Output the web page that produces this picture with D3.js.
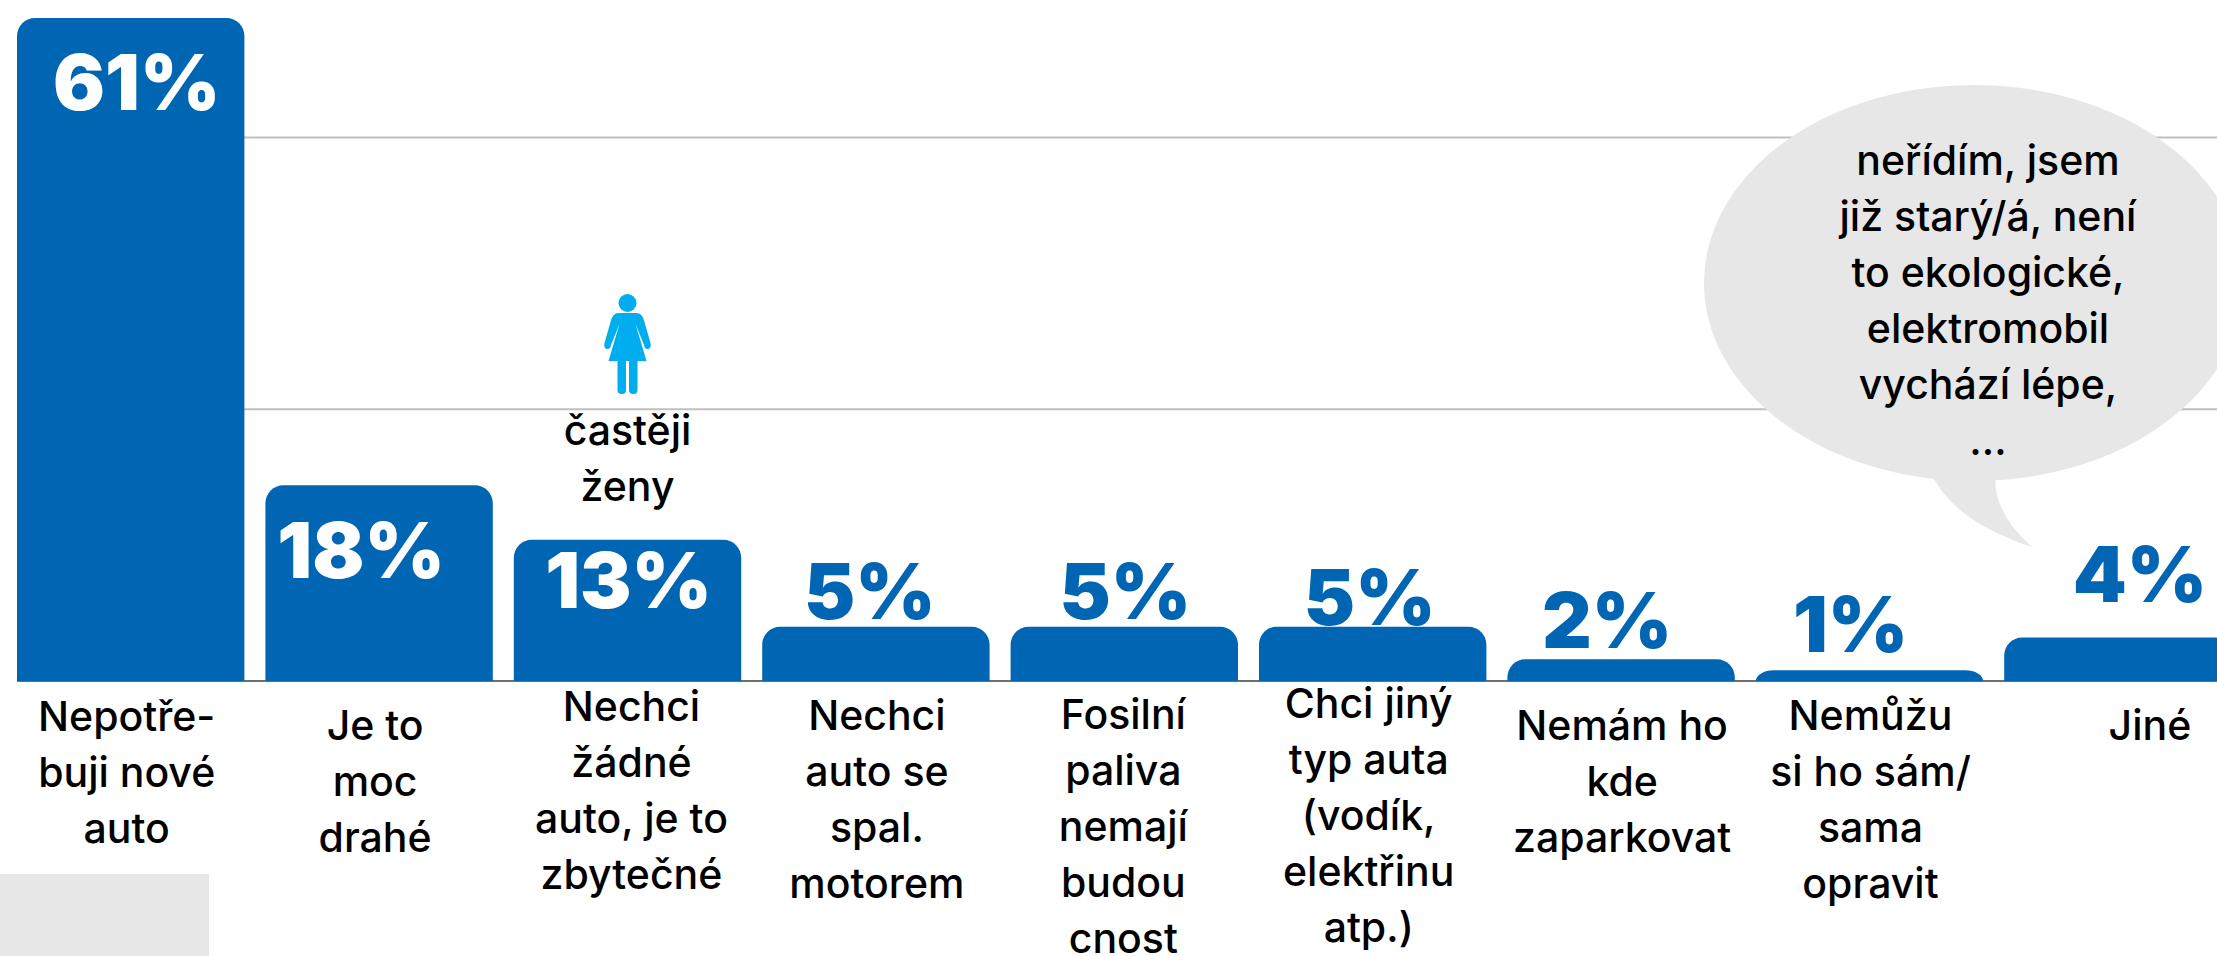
<!DOCTYPE html>
<html lang="cs">
<head>
<meta charset="utf-8">
<title>Důvody proti koupi auta</title>
<script src="https://cdn.jsdelivr.net/npm/d3@7"></script>
<style>
  html, body { margin: 0; padding: 0; background: #fff; overflow: hidden; }
  svg { display: block; }
  text { font-family: Inter, "Noto Sans", sans-serif; }
  .label { font-size: 41px; font-weight: 500; fill: #000; text-anchor: middle; }
  .value { font-size: 77px; font-weight: 900; text-anchor: middle; }
</style>
</head>
<body>
<div id="chart"></div>
<script>
// data
const categories = ["a", "b", "c", "d", "e", "f", "g", "h", "i"];
const values = [61, 18, 13, 5, 5, 5, 2, 1, 4];
const valueLabels = ["61%", "18%", "13%", "5%", "5%", "5%", "2%", "1%", "4%"];
const categoryLines = [
  ["Nepotře-", "buji nové", "auto"],
  ["Je to", "moc", "drahé"],
  ["Nechci", "žádné", "auto, je to", "zbytečné"],
  ["Nechci", "auto se", "spal.", "motorem"],
  ["Fosilní", "paliva", "nemají", "budou", "cnost"],
  ["Chci jiný", "typ auta", "(vodík,", "elektřinu", "atp.)"],
  ["Nemám ho", "kde", "zaparkovat"],
  ["Nemůžu", "si ho sám/", "sama", "opravit"],
  ["Jiné"]
];
const gridTicks = [25, 50];
const noteLines = ["častěji", "ženy"];
const bubbleLines = ["neřídím, jsem", "již starý/á, není", "to ekologické,", "elektromobil", "vychází lépe,", "..."];

// hand placed labels, the original has them dragged around a bit
const valueDx = [6, -18, 1, -6, 1, -3, -14, -19, 22];
const valueBaseline = [110, 578, 608, 619, 619, 625, 648, 652, 602];
const labelDx = [-4, -4, 4, 1, -1, -4, 1, 1, 32];
const labelBaseline = [731, 740, 721, 730, 729, 718, 740, 730, 740];

const width = 2217, height = 956;
const lineStep = 56;

const svg = d3.select("#chart").append("svg")
  .attr("width", width)
  .attr("height", height)
  .attr("viewBox", `0 0 ${width} ${height}`);

const x = d3.scaleBand()
  .domain(categories)
  .range([17, 17 + 9 * 248.4 - 21])
  .paddingInner(21 / 248.4)
  .paddingOuter(0);

const y = d3.scaleLinear().domain([0, 61]).range([681, 18]);

// grid lines
svg.selectAll(".grid")
  .data(gridTicks)
  .enter()
  .append("line")
  .attr("x1", x.range()[0])
  .attr("x2", width)
  .attr("y1", (d) => y(d))
  .attr("y2", (d) => y(d))
  .attr("stroke", "#bfbfbf")
  .attr("stroke-width", 2);

// base line
svg.append("line")
  .attr("x1", x.range()[0])
  .attr("x2", width)
  .attr("y1", y(0))
  .attr("y2", y(0))
  .attr("stroke", "#6f6f6f")
  .attr("stroke-width", 2);

// bars, only top corners are round
function barPath(d, i) {
  const x0 = x(categories[i]);
  const x1 = x0 + x.bandwidth();
  const yTop = y(d);
  const yBase = y(0);
  const ry = Math.min(18, yBase - yTop);
  const rx = 18;
  const p = d3.path();
  p.moveTo(x0, yBase);
  p.lineTo(x0, yTop + ry);
  p.bezierCurveTo(x0, yTop + ry * 0.45, x0 + rx * 0.45, yTop, x0 + rx, yTop);
  p.lineTo(x1 - rx, yTop);
  p.bezierCurveTo(x1 - rx * 0.45, yTop, x1, yTop + ry * 0.45, x1, yTop + ry);
  p.lineTo(x1, yBase);
  p.closePath();
  return p.toString();
}

svg.selectAll(".bar")
  .data(values)
  .enter()
  .append("path")
  .attr("class", "bar")
  .attr("d", barPath)
  .attr("fill", "#0066b3");

// value labels, white when sitting inside a bar
svg.selectAll(".value")
  .data(valueLabels)
  .enter()
  .append("text")
  .attr("class", "value")
  .attr("x", (d, i) => x(categories[i]) + x.bandwidth() / 2 + valueDx[i])
  .attr("y", (d, i) => valueBaseline[i])
  .attr("fill", (d, i) => (values[i] > 10 ? "#fff" : "#0066b3"))
  .text((d) => d);

// category labels
const catGroups = svg.selectAll(".cat")
  .data(categoryLines)
  .enter()
  .append("text")
  .attr("class", "label");

catGroups.selectAll("tspan")
  .data((d, i) => d.map((line, j) => ({ line, j, i })))
  .enter()
  .append("tspan")
  .attr("x", (d) => x(categories[d.i]) + x.bandwidth() / 2 + labelDx[d.i])
  .attr("y", (d) => labelBaseline[d.i] + d.j * lineStep)
  .text((d) => d.line);

// grey box bottom left
svg.append("rect")
  .attr("x", 0)
  .attr("y", 874)
  .attr("width", 209)
  .attr("height", 82)
  .attr("fill", "#e7e7e7");

// speech bubble
svg.append("ellipse")
  .attr("cx", 1974)
  .attr("cy", 283)
  .attr("rx", 270)
  .attr("ry", 198)
  .attr("fill", "#e7e7e7");

const tail = d3.path();
tail.moveTo(1930, 470);
tail.quadraticCurveTo(1950, 520, 2032, 547);
tail.quadraticCurveTo(1990, 510, 1996, 470);
tail.closePath();
svg.append("path").attr("d", tail.toString()).attr("fill", "#e7e7e7");

svg.append("text")
  .attr("class", "label")
  .selectAll("tspan")
  .data(bubbleLines)
  .enter()
  .append("tspan")
  .attr("x", 1988)
  .attr("y", (d, i) => 175 + i * 56)
  .text((d) => d);

// note above the third bar
const noteX = x(categories[2]) + x.bandwidth() / 2;
svg.append("text")
  .attr("class", "label")
  .selectAll("tspan")
  .data(noteLines)
  .enter()
  .append("tspan")
  .attr("x", noteX)
  .attr("y", (d, i) => 445 + i * 56)
  .text((d) => d);

// woman pictogram
const woman = svg.append("g")
  .attr("transform", `translate(${noteX},0)`)
  .attr("fill", "#00aeef");
woman.append("circle").attr("cx", 0).attr("cy", 303).attr("r", 9);
woman.append("path")
  .attr("d", "M-9,313 L9,313 Q15,313 17,322 L23,343 Q24,349 20,349 Q17,349 16.5,345 L8,324 L19,361 L-19,361 L-8,324 L-16.5,345 Q-17,349 -20,349 Q-24,349 -23,343 L-17,322 Q-15,313 -9,313 Z");
woman.append("rect").attr("x", -10).attr("y", 358).attr("width", 8.5).attr("height", 36).attr("rx", 4);
woman.append("rect").attr("x", 1.5).attr("y", 358).attr("width", 8.5).attr("height", 36).attr("rx", 4);
</script>
</body>
</html>
